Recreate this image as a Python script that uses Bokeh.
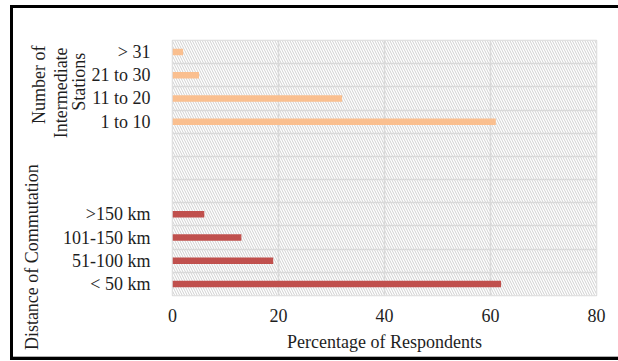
from bokeh.plotting import figure
from bokeh.models import (ColumnDataSource, FixedTicker, Range1d, BoxAnnotation, Label)
from bokeh.embed import file_html
from bokeh.resources import INLINE
import math

# ---- data ----
station_labels = ["1 to 10", "11 to 20", "21 to 30", "> 31"]
station_values = [61, 32, 5, 2]
distance_labels = ["< 50 km", "51-100 km", "101-150 km", ">150 km"]
distance_values = [62, 19, 13, 6]
x_ticks = [0, 20, 40, 60, 80]
x_title = "Percentage of Respondents"
group_distance = "Distance of Commutation"
group_stations = ["Number of", "Intermediate", "Stations"]

# row positions: distance rows at bottom, three empty rows, station rows on top
dist_pos = list(range(len(distance_labels)))
gap = 3
station_pos = [len(distance_labels) + gap + i for i in range(len(station_labels))]
n_rows = len(distance_labels) + gap + len(station_labels)

FONT = "Liberation Serif"
TXT = "#1e1e1e"

p = figure(width=618, height=361, output_backend="svg", toolbar_location=None,
           x_range=Range1d(x_ticks[0], x_ticks[-1]),
           y_range=Range1d(-0.5, n_rows - 0.5),
           min_border_left=172, min_border_right=22, min_border_top=40, min_border_bottom=66,
           frame_width=424, frame_height=255)
p.border_fill_color = None
p.background_fill_color = "white"
p.outline_line_color = "#d9d9d9"
p.outline_line_width = 1.5
# outer black frame (left, top, bottom edges)
p.styles = {"box-shadow": ("inset 10px 0 0 0 #fff, inset 0 5px 0 0 #fff, inset 0 -1px 0 0 #fff, "
                           "inset 13px 0 0 0 #000, inset 0 8px 0 0 #000, inset 0 -4px 0 0 #000, "
                           "inset 0 -5px 0 0 #b0b0b0")}

# hatched plot background
p.add_layout(BoxAnnotation(fill_color="white", fill_alpha=1, line_color=None,
                           hatch_pattern="\\", hatch_color="#d0d0d0", hatch_scale=5,
                           hatch_weight=1, level="image"))

src_d = ColumnDataSource(dict(y=dist_pos, v=distance_values))
src_s = ColumnDataSource(dict(y=station_pos, v=station_values))
bh = 0.28
p.hbar(y="y", right="v", left=0, height=bh, source=src_d, color="#C0504D", line_color=None)
p.hbar(y="y", right="v", left=0, height=bh, source=src_s, color="#FABF8F", line_color=None)

# axes
p.xaxis.ticker = FixedTicker(ticks=x_ticks)
p.xaxis.axis_label = x_title
p.yaxis.ticker = FixedTicker(ticks=dist_pos + station_pos)
overrides = {}
for pos, lab in zip(dist_pos, distance_labels):
    overrides[pos] = lab
for pos, lab in zip(station_pos, station_labels):
    overrides[pos] = lab
p.yaxis.major_label_overrides = overrides

for ax in (p.xaxis[0], p.yaxis[0]):
    ax.axis_line_color = None
    ax.major_tick_line_color = None
    ax.minor_tick_line_color = None
    ax.major_label_text_font = FONT
    ax.major_label_text_font_size = "18px"
    ax.major_label_text_color = TXT
p.xaxis.major_label_standoff = 7
p.yaxis.major_label_standoff = 16
p.xaxis.axis_label_text_font = FONT
p.xaxis.axis_label_text_font_size = "18px"
p.xaxis.axis_label_text_font_style = "normal"
p.xaxis.axis_label_text_color = TXT
p.xaxis.axis_label_standoff = 7

# grid
p.xgrid.ticker = FixedTicker(ticks=x_ticks)
p.xgrid.grid_line_color = "#d9d9d9"
p.xgrid.grid_line_width = 1.5
p.ygrid.ticker = FixedTicker(ticks=[i - 0.5 for i in range(n_rows + 1)])
p.ygrid.grid_line_color = "#d9d9d9"
p.ygrid.grid_line_width = 1.5

# group labels (rotated), placed in side panels so they are not clipped to the frame;
# they are positioned in canvas x / data y, the panel choice only balances panel sizes
def glabel(text, cx, ydata, yoff, side):
    p.add_layout(Label(x=cx, y=ydata, x_units="canvas", y_units="data", y_offset=yoff,
                       text=text, angle=math.pi / 2, text_align="center",
                       text_baseline="middle", text_font=FONT, text_font_size="18px",
                       text_color=TXT), side)

glabel(group_distance, 31, sum(dist_pos) / len(dist_pos), -8, "left")
st_center = sum(station_pos) / len(station_pos)
glabel(group_stations[0], 38, st_center, 2, "left")
glabel(group_stations[1], 60, st_center, -6, "left")
glabel(group_stations[2], 78, st_center, 5, "right")

open("out.html", "w").write(file_html(p, INLINE))
